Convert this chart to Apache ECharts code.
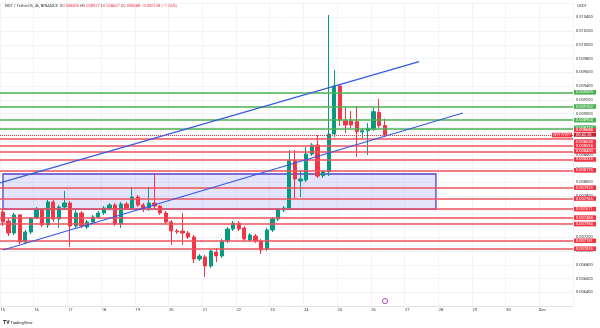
<!DOCTYPE html>
<html><head><meta charset="utf-8">
<script src="https://cdn.jsdelivr.net/npm/echarts@6/dist/echarts.min.js"></script>
<style>html,body{margin:0;padding:0;background:#fff}#c{width:600px;height:328px}</style>
</head><body><div id="c"></div>
<script>
// ---------- DATA ----------
const dayLabels = ['15','16','17','18','19','20','21','22','23','24','25','26','27','28','29','30','Dec'];
const barsPerDay = 6; // 4h candles

const opens = [0.007569,0.007438,0.007264,0.007526,0.007133,0.007279,0.007482,0.007598,0.007380,0.007715,
0.007467,0.007642,0.007700,0.007366,0.007555,0.007351,0.007424,0.007497,0.007555,0.007627,
0.007671,0.007395,0.007685,0.007627,0.007787,0.007671,0.007627,0.007700,0.007656,0.007555,
0.007424,0.007293,0.007293,0.007264,0.007206,0.006886,0.006915,0.006784,0.006988,0.006930,
0.007148,0.007322,0.007409,0.007337,0.007162,0.007220,0.007148,0.007031,0.007308,0.007467,
0.007598,0.007627,0.008315,0.008020,0.008034,0.008412,0.008543,0.008097,0.008155,0.008703,
0.009401,0.008896,0.008892,0.008882,0.008732,0.008751,0.008771,0.009018,0.008826];
const closes = [0.007424,0.007264,0.007526,0.007133,0.007279,0.007482,0.007598,0.007380,0.007715,0.007467,
0.007642,0.007700,0.007366,0.007555,0.007366,0.007424,0.007497,0.007555,0.007627,0.007671,
0.007395,0.007685,0.007627,0.007787,0.007671,0.007627,0.007700,0.007656,0.007555,0.007424,
0.007293,0.007280,0.007264,0.007206,0.006886,0.006929,0.006784,0.007002,0.006930,0.007148,
0.007322,0.007409,0.007322,0.007177,0.007235,0.007148,0.007017,0.007308,0.007467,0.007598,
0.007627,0.008315,0.008049,0.008049,0.008412,0.008543,0.008092,0.008155,0.008703,0.009401,
0.008906,0.008834,0.008834,0.008736,0.008751,0.008786,0.009027,0.008826,0.008688];
const lows = [0.007366,0.007220,0.007235,0.007104,0.007104,0.007250,0.007467,0.007351,0.007337,0.007424,
0.007337,0.007598,0.007060,0.007337,0.007337,0.007322,0.007395,0.007467,0.007526,0.007598,
0.007366,0.007337,0.007598,0.007598,0.007642,0.007569,0.007584,0.007613,0.007526,0.007395,
0.007090,0.007250,0.007090,0.007177,0.006828,0.006857,0.006624,0.006755,0.006843,0.006901,
0.007119,0.007293,0.007293,0.007148,0.007133,0.007119,0.006959,0.007002,0.007279,0.007438,
0.007569,0.007598,0.007758,0.007787,0.008005,0.008383,0.008063,0.008063,0.008092,0.008659,
0.008819,0.008717,0.008790,0.008369,0.008645,0.008398,0.008746,0.008790,0.008657];
const highs = [0.007613,0.007467,0.007555,0.007540,0.007308,0.007497,0.007642,0.007627,0.007744,0.007744,
0.007671,0.007875,0.007729,0.007598,0.007584,0.007453,0.007526,0.007584,0.007656,0.007700,
0.007700,0.007715,0.007715,0.007933,0.007816,0.007700,0.007933,0.008136,0.007671,0.007584,
0.007453,0.007322,0.007555,0.007293,0.007235,0.006959,0.006944,0.007031,0.007046,0.007177,
0.007351,0.007438,0.007438,0.007366,0.007264,0.007250,0.007177,0.007337,0.007497,0.007627,
0.007656,0.008470,0.008470,0.008180,0.008514,0.008572,0.008688,0.008180,0.010433,0.009633,
0.009430,0.009095,0.009037,0.009110,0.008790,0.008863,0.009081,0.009212,0.008927];

const greenLevels = [0.009309, 0.009102, 0.008904, 0.008773];
const redLevels = [0.008638, 0.008534, 0.008450, 0.008333, 0.008175, 0.007923, 0.007765, 0.007611, 0.007488, 0.007394, 0.007151, 0.007035];

// trend channel endpoints: [bar index, price]
const upperChannel = [[-0.5, 0.007991], [74.1, 0.009754]];
const lowerChannel = [[0.03, 0.007017], [81.9, 0.009008]];
// demand zone: bar index range and price range
const zoneBars = [0.03, 77.1];
const zonePrices = [0.007611, 0.008122];

const priceMin = 0.0062, priceMax = 0.0106, priceStep = 0.0002;
const symbolTitle = 'NOT / TetherUS, 4h, BINANCE';
const countdown = '00:42:26';

// ---------- BUILD ----------
const GREEN = '#4caf50', RED = '#f23645', UP = '#089981', DOWN = '#f23645';
const LEVEL_RED = '#f0505c';
const FONT = 'Roboto, "Liberation Sans", sans-serif';
const categories = [];
dayLabels.forEach(d => { for (let h = 0; h < barsPerDay; h++) categories.push(d + ' ' + (h * 4) + ':00'); });
const candles = opens.map((o, i) => [o, closes[i], lows[i], highs[i]]);
const last = opens.length - 1;
const lastPrice = closes[last];
const chg = closes[last] - closes[last - 1];
const pct = chg / closes[last - 1] * 100;
const fmt = v => v.toFixed(6);
const dayTick = (i) => i % barsPerDay === 0;

const chart = echarts.init(document.getElementById('c'), null, {renderer: 'canvas'});
const GRID = {left: 0, right: 27, top: 3.5, bottom: 21.8, containLabel: false, outerBoundsMode: 'none'};

function levelLines(offsets) {
  const data = [];
  greenLevels.forEach((v, k) => data.push({v, c: GREEN, lc: GREEN, key: 'g' + k}));
  redLevels.forEach((v, k) => data.push({v, c: RED, lc: LEVEL_RED, key: 'r' + k}));
  const out = data.map(d => ({
    yAxis: d.v,
    lineStyle: {color: d.lc, width: 1.5, type: 'solid', opacity: 1},
    label: {
      show: true, position: 'end', distance: 1, formatter: fmt(d.v),
      color: '#fff', backgroundColor: d.c, fontSize: 4, fontFamily: FONT,
      lineHeight: 4.6, padding: [0, 2], width: 18, align: 'left',
      offset: [0, offsets[d.key] || 0]
    }
  }));
  out.push({
    yAxis: lastPrice,
    lineStyle: {color: RED, width: 1, type: [1, 1], opacity: 1},
    label: {
      show: true, position: 'end', distance: 1,
      formatter: '{p|' + fmt(lastPrice) + '}\n{t|' + countdown + '}',
      offset: [0, (offsets.cur || 0)],
      rich: {
        p: {color: '#fff', backgroundColor: RED, fontSize: 4, lineHeight: 4.6, width: 18, padding: [0, 2], fontFamily: FONT},
        t: {color: '#fff', backgroundColor: '#c5202f', fontSize: 4, lineHeight: 4.6, width: 18, padding: [0, 2], fontFamily: FONT}
      }
    }
  });
  return out;
}

function buildOption(offsets, badgeY) {
  return {
    animation: false,
    backgroundColor: '#ffffff',
    grid: GRID,
    xAxis: [{
      type: 'category', data: categories, boundaryGap: true,
      axisLine: {show: true, lineStyle: {color: '#e0e3eb'}},
      axisTick: {show: false},
      axisLabel: {interval: dayTick, formatter: (v) => v.split(' ')[0], fontSize: 4, color: '#333', margin: 2, fontFamily: FONT},
      splitLine: {show: true, interval: dayTick, lineStyle: {color: '#f0f3fa', width: 1}}
    }, {
      type: 'value', min: -0.5, max: categories.length - 0.5, show: false
    }],
    yAxis: [{
      type: 'value', position: 'right', min: priceMin, max: priceMax, interval: priceStep,
      axisLine: {show: false}, axisTick: {show: false},
      axisLabel: {fontSize: 4, color: '#333', margin: 3, formatter: fmt, showMinLabel: false, showMaxLabel: false, fontFamily: FONT},
      splitLine: {show: true, lineStyle: {color: '#f0f3fa', width: 1}}
    }],
    series: [{
      type: 'candlestick', data: candles, xAxisIndex: 0, yAxisIndex: 0, z: 2,
      barWidth: '66%',
      itemStyle: {color: UP, color0: DOWN, borderColor: UP, borderColor0: DOWN, borderWidth: 1}
    }, {
      type: 'line', xAxisIndex: 1, yAxisIndex: 0, data: upperChannel, symbol: 'none', z: 6,
      lineStyle: {color: '#3559e0', width: 1.2},
      markArea: {silent: true, itemStyle: {color: 'rgba(86, 92, 235, 0.16)', borderColor: '#5040d0', borderWidth: 1.3},
        data: [[{coord: [zoneBars[0], zonePrices[1]]}, {coord: [zoneBars[1], zonePrices[0]]}]]}
    }, {
      type: 'line', xAxisIndex: 1, yAxisIndex: 0, data: lowerChannel, symbol: 'none', z: 6,
      lineStyle: {color: '#3559e0', width: 1.2}
    }, {
      type: 'line', xAxisIndex: 1, yAxisIndex: 0, data: [], symbol: 'none', z: 5,
      color: RED,
      markLine: {silent: true, symbol: ['none', 'none'], precision: 6, animation: false,
        lineStyle: {color: LEVEL_RED, width: 1.5, opacity: 1},
        emphasis: {disabled: true},
        data: levelLines(offsets)}
    }],
    graphic: [
      {type: 'text', left: 5, top: 3.5, z: 100, style: {
        text: symbolTitle + '  {k|O}{v|' + fmt(opens[last]) + '} {k|H}{v|' + fmt(highs[last]) + '} {k|L}{v|' + fmt(lows[last]) + '} {k|C}{v|' + fmt(closes[last]) + '} {v|' + (chg < 0 ? '−' : '+') + fmt(Math.abs(chg)) + ' (' + (pct < 0 ? '−' : '+') + Math.abs(pct).toFixed(2) + '%)}',
        fontSize: 4, fill: '#333', fontFamily: FONT,
        rich: {k: {fontSize: 4, fill: '#333', fontFamily: FONT}, v: {fontSize: 4, fill: RED, fontFamily: FONT}}
      }},
      {type: 'text', left: 577, top: 4, z: 100, style: {text: 'USDT', fontSize: 4, fill: '#333', fontFamily: FONT}},
      {type: 'group', left: 552, top: badgeY - 2.3, z: 100, children: [
        {type: 'rect', shape: {x: 0, y: 0, width: 20, height: 4.6}, style: {fill: RED}},
        {type: 'text', x: 1.5, y: 0.4, style: {text: 'NOT/USDT', fontSize: 3.6, fill: '#fff', fontFamily: FONT}}
      ]},
      {type: 'circle', shape: {cx: 385, cy: 301, r: 2.6}, style: {fill: '#fff', stroke: '#9c27b0', lineWidth: 0.8}, z: 100},
      {type: 'text', left: 3, top: 320, z: 100, style: {text: '{b|TV} TradingView', fontSize: 4, fill: '#131722', fontFamily: FONT,
        rich: {b: {fontSize: 5, fontWeight: 'bold', fill: '#131722', fontFamily: FONT}}}}
    ]
  };
}

chart.setOption(buildOption({}, 135));

// label de-overlap (cluster layout, like the price scale does)
const toY = v => chart.convertToPixel({yAxisIndex: 0}, v);
const LH = 4.6;
const items = [];
greenLevels.forEach((v, k) => items.push({key: 'g' + k, y: toY(v), h: LH}));
redLevels.forEach((v, k) => items.push({key: 'r' + k, y: toY(v), h: LH}));
const curY = toY(lastPrice);
items.push({key: 'cur', y: curY + LH / 2, h: LH * 2});
items.sort((a, b) => a.y - b.y);
let clusters = items.map(it => ({m: [it], top: it.y - it.h / 2, h: it.h}));
function place(c) {
  let acc = 0, s = 0;
  c.m.forEach(it => { s += it.y - (acc + it.h / 2); acc += it.h; });
  c.top = s / c.m.length; c.h = acc;
}
let changed = true;
while (changed) {
  changed = false;
  for (let i = 0; i < clusters.length - 1; i++) {
    const a = clusters[i], b = clusters[i + 1];
    if (a.top + a.h > b.top + 0.01) {
      const c = {m: a.m.concat(b.m)}; place(c);
      clusters.splice(i, 2, c); changed = true; break;
    }
  }
}
const offsets = {};
clusters.forEach(c => {
  let t = c.top;
  c.m.forEach(it => {
    const center = t + it.h / 2;
    offsets[it.key] = center - it.y;
    t += it.h;
  });
});
chart.setOption(buildOption(offsets, curY), {notMerge: true});
</script>
</body></html>
